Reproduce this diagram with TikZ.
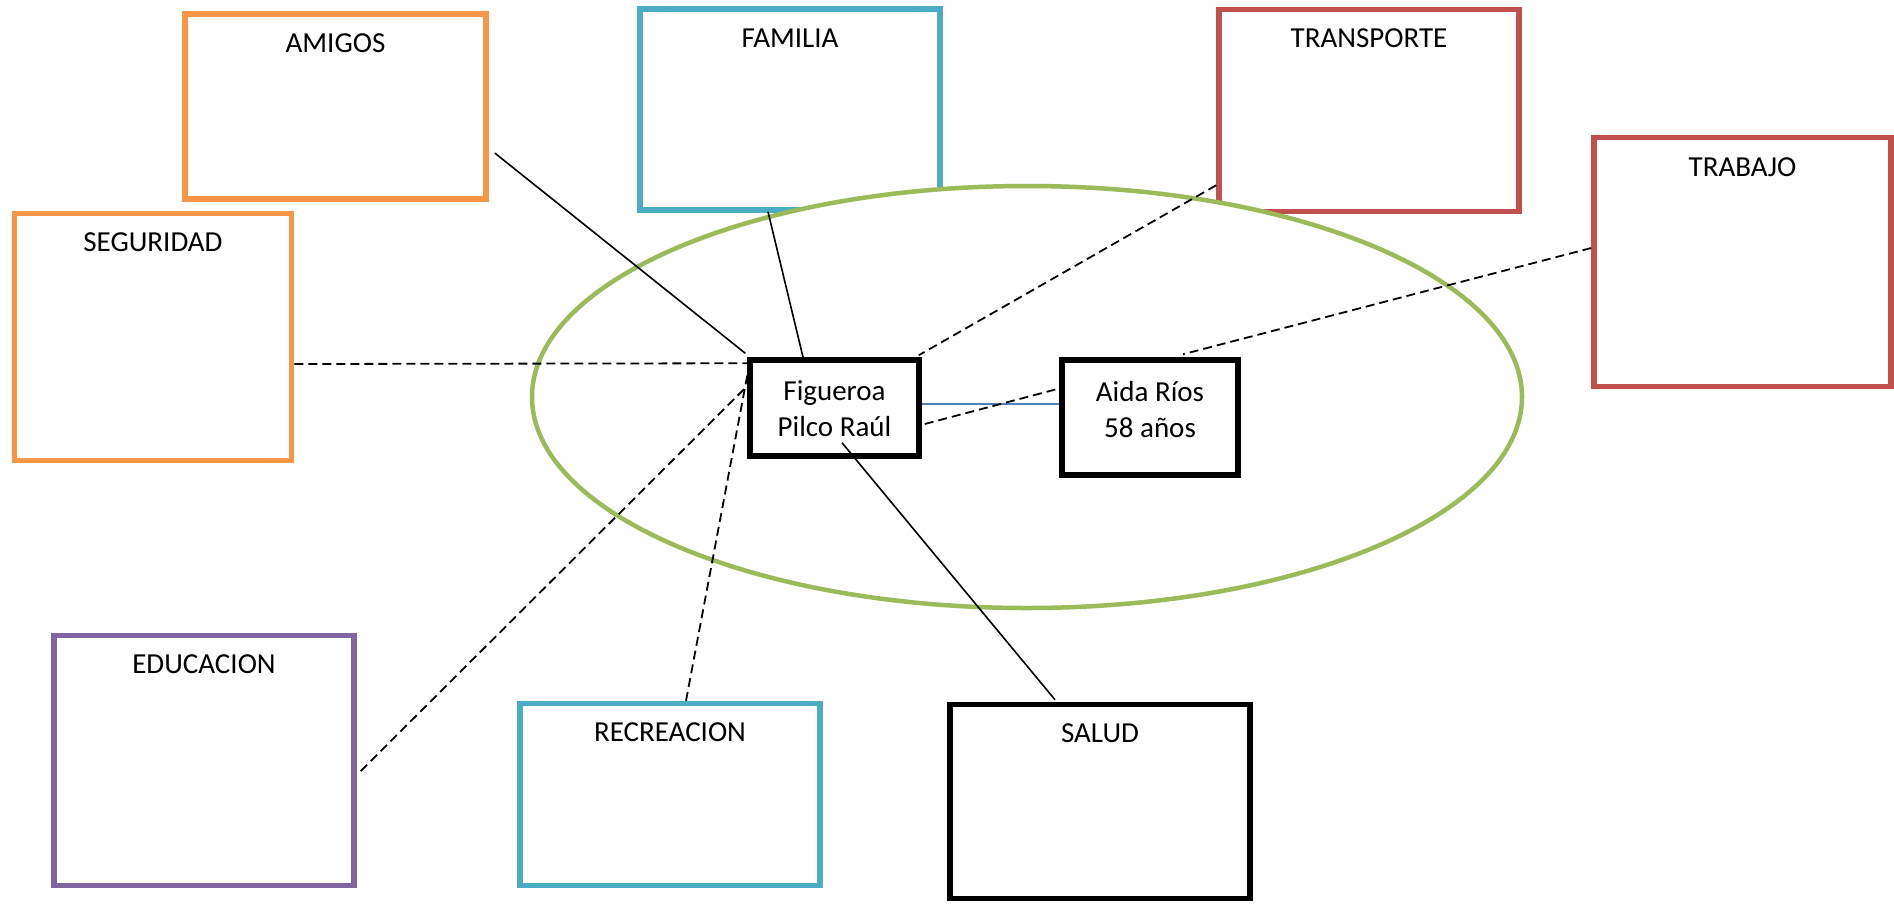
\documentclass[tikz,border=0pt]{standalone}
\usepackage{fontspec}
\setmainfont{Carlito}
\definecolor{cOrange}{HTML}{F79646}
\definecolor{cTeal}{HTML}{4BACC6}
\definecolor{cRed}{HTML}{C0504D}
\definecolor{cPurple}{HTML}{8064A2}
\definecolor{cGreen}{HTML}{9BBB59}
\definecolor{cBlue}{HTML}{4F81BD}
\begin{document}
\begin{tikzpicture}[x=1pt,y=1pt,
  cbox/.style={draw=#1, line width=5.5pt, rectangle, inner sep=0pt},
  lbl/.style={font=\fontsize{29}{35}\selectfont, anchor=base, inner sep=0pt},
  pbox/.style={draw=black, line width=5.5pt, rectangle, inner sep=0pt, fill=white},
  ptext/.style={font=\fontsize{29}{36}\selectfont, align=center, inner sep=0pt},
  solidline/.style={draw=black, line width=1.6pt},
  dashline/.style={draw=black, line width=1.8pt, dash pattern=on 9pt off 5pt},
  blueline/.style={draw=cBlue, line width=1.8pt}
]
\useasboundingbox (0,0) rectangle (1894,-903);
\fill[white] (0,0) rectangle (1894,-903);

% outer boxes
\node[cbox=cOrange, minimum width=301pt, minimum height=185pt] (amigos) at (335.5,-106.5) {};
\node[cbox=cOrange, minimum width=277pt, minimum height=247pt] (seguridad) at (153,-337) {};
\node[cbox=cTeal, minimum width=300pt, minimum height=201pt] (familia) at (790,-109.5) {};
\node[cbox=cRed, minimum width=300pt, minimum height=202pt] (transporte) at (1369,-110.5) {};
\node[cbox=cRed, minimum width=297pt, minimum height=249pt] (trabajo) at (1742.5,-262) {};
\node[cbox=cPurple, minimum width=300pt, minimum height=250pt] (educacion) at (204,-760.5) {};
\node[cbox=cTeal, minimum width=300pt, minimum height=182pt] (recreacion) at (670,-794.5) {};
\node[cbox=black, minimum width=300pt, minimum height=194pt] (salud) at (1100,-801.5) {};

% ellipse (white filled, over the boxes)
\draw[draw=cGreen, fill=white, line width=4.5pt] (1027,-397) ellipse [x radius=495, y radius=211];

% labels
\node[lbl] (amigosL) at ([yshift=-41pt]amigos.north) {AMIGOS};
\node[lbl] (seguridadL) at ([yshift=-41pt]seguridad.north) {SEGURIDAD};
\node[lbl] (familiaL) at ([yshift=-41pt]familia.north) {FAMILIA};
\node[lbl] (transporteL) at ([yshift=-41pt]transporte.north) {TRANSPORTE};
\node[lbl] (trabajoL) at ([yshift=-42pt]trabajo.north) {TRABAJO};
\node[lbl] (educacionL) at ([yshift=-41pt]educacion.north) {EDUCACION};
\node[lbl] (recreacionL) at ([yshift=-41pt]recreacion.north) {RECREACION};
\node[lbl] (saludL) at ([yshift=-41pt]salud.north) {SALUD};

% central boxes
\node[pbox, minimum width=169pt, minimum height=96pt] (fig) at (834.5,-408) {};
\node[pbox, minimum width=176pt, minimum height=115pt] (aida) at (1150,-417.5) {};
\node[ptext] (figT) at ([yshift=-1pt]fig.center) {Figueroa\\Pilco Raúl};
\node[ptext] (aidaT) at ([yshift=8pt]aida.center) {Aida Ríos\\58 años};

% connectors
\draw[solidline] ([shift={(6,-46.5)}]amigos.east) -- ([shift={(-2,4)}]fig.north west);
\draw[solidline] ([shift={(-22,1)}]familia.south) -- ([shift={(-30.5,-4)}]fig.north);
\draw[dashline] ([shift={(0,29)}]transporte.south west) -- ([shift={(-3,2)}]fig.north east);
\draw[dashline] ([shift={(0,14)}]trabajo.west) -- ([shift={(33,3)}]aida.north);
\draw[dashline] ([shift={(0,-27)}]seguridad.east) -- ([shift={(0,-6)}]fig.north west);
\draw[dashline] ([shift={(4,-10.5)}]educacion.east) -- ([shift={(-1,21)}]fig.west);
\draw[dashline] ([shift={(16,0)}]recreacion.north) -- ([shift={(1,-13)}]fig.north west);
\draw[solidline] ([shift={(-45,2)}]salud.north) -- ([shift={(7.5,16)}]fig.south);
\draw[blueline] ([shift={(0,4)}]fig.east) -- ([shift={(0,13.5)}]aida.west);
\draw[dashline] ([shift={(3,-16)}]fig.east) -- ([shift={(-2,28.5)}]aida.west);
\end{tikzpicture}
\end{document}
